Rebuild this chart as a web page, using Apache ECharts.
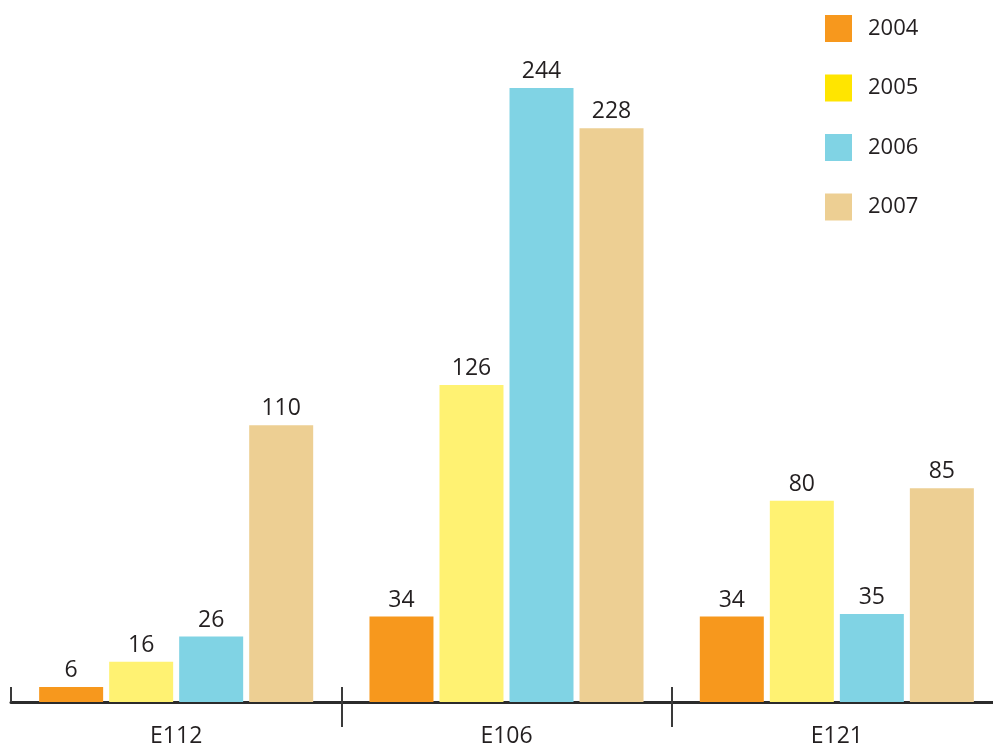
<!DOCTYPE html>
<html>
<head>
<meta charset="utf-8">
<script src="https://cdn.jsdelivr.net/npm/echarts@6/dist/echarts.min.js"></script>
<style>
    html, body { margin: 0; padding: 0; background: #fff; }
    #chart { width: 993px; height: 747px; }
</style>
</head>
<body>
<div id="chart"></div>
<script>
// categories and values
const categories = ['E112', 'E106', 'E121'];
const years = ['2004', '2005', '2006', '2007'];
const v2004 = [6, 34, 34];
const v2005 = [16, 126, 80];
const v2006 = [26, 244, 35];
const v2007 = [110, 228, 85];

const barColors = ['#F7981D', '#FFF272', '#80D3E4', '#EDCF93'];
const legendColors = ['#F7981D', '#FFE500', '#80D3E4', '#EDCF93'];
const fontFamily = '"Open Sans", "DejaVu Sans", sans-serif';
const textColor = '#231F20';

const allValues = [v2004, v2005, v2006, v2007];

const chart = echarts.init(document.getElementById('chart'));

const option = {
    backgroundColor: '#fff',
    animation: false,
    legend: {
        orient: 'vertical',
        left: 825,
        top: 15,
        padding: 0,
        itemWidth: 27,
        itemHeight: 27,
        itemGap: 32.5,
        icon: 'rect',
        textStyle: {
            color: textColor,
            fontSize: 22,
            fontFamily: fontFamily,
            padding: [0, 0, 0, 11]
        },
        data: years.map((y, i) => ({ name: y, itemStyle: { color: legendColors[i] } }))
    },
    grid: {
        left: 11,
        right: -9,
        top: 73,
        bottom: 45,
        outerBoundsMode: 'none',
        containLabel: false
    },
    xAxis: [{
        type: 'category',
        data: categories,
        axisLine: { lineStyle: { color: '#2b2b2b', width: 3 } },
        axisTick: {
            show: true,
            length: 25,
            lineStyle: { color: '#3a3a3a', width: 2 },
            interval: (idx) => idx !== 0
        },
        axisLabel: {
            color: textColor,
            fontSize: 23,
            fontFamily: fontFamily,
            margin: 23
        }
    }, {
        type: 'category',
        data: categories,
        position: 'bottom',
        axisLine: { show: false },
        axisTick: {
            show: true,
            inside: true,
            length: 15,
            lineStyle: { color: '#3a3a3a', width: 2 }
        },
        axisLabel: { show: false }
    }],
    yAxis: {
        type: 'value',
        min: 0,
        max: 250,
        show: false,
        splitLine: { show: false }
    },
    series: years.map((y, i) => ({
        name: y,
        type: 'bar',
        data: allValues[i],
        barWidth: 64,
        barGap: '9.4%',
        itemStyle: { color: barColors[i] },
        label: {
            show: true,
            position: 'top',
            distance: 5,
            color: textColor,
            fontSize: 23,
            fontFamily: fontFamily
        }
    }))
};

chart.setOption(option);
</script>
</body>
</html>
